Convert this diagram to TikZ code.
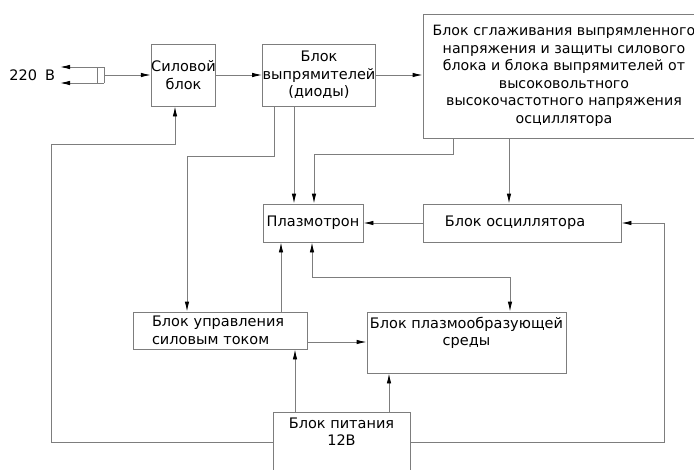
\documentclass[tikz,border=0pt]{standalone}
\usepackage{fontspec}
\setmainfont{DejaVu Sans}
\usetikzlibrary{arrows.meta}
\definecolor{linegray}{RGB}{125,125,125}
\begin{document}
\begin{tikzpicture}[x=1pt,y=-1pt,line width=0.9pt,
  box/.style={draw=linegray,rectangle,inner sep=0pt,text=black,font=\fontsize{14.5}{17.5}\selectfont},
  lbl/.style={text=black,font=\fontsize{14.5}{17.5}\selectfont,inner sep=0pt},
  arr/.style={draw=linegray,-{Latex[length=10pt,width=4.5pt,color=black]}},
  arrboth/.style={draw=linegray,{Latex[length=10pt,width=4.5pt,color=black]}-{Latex[length=10pt,width=4.5pt,color=black]}},
  ln/.style={draw=linegray}]
\useasboundingbox (0,0) rectangle (694,469);
\fill[white] (0,0) rectangle (694,469);
\clip (0,0) rectangle (694,469);

% boxes
\node[box,minimum width=61pt,minimum height=62pt,align=center] (sil) at (183.5,75) {Силовой\\блок};
\node[box,minimum width=112pt,minimum height=62pt,align=center] (vyp) at (319,75) {Блок\\выпрямителей\\(диоды)};
\node[box,minimum width=282pt,minimum height=124pt,align=center,font=\fontsize{14.2}{17.5}\selectfont] (big) at (564,76)
  {Блок сглаживания выпрямленного\\напряжения и защиты силового\\блока и блока выпрямителей от\\высоковольтного\\высокочастотного напряжения\\осциллятора};
\node[box,minimum width=100pt,minimum height=38pt] (plaz) at (313,223) {Плазмотрон};
\node[box,minimum width=198pt,minimum height=38pt] (osc) at (522,223) {Блок осциллятора\hspace*{14pt}};
\node[box,minimum width=174pt,minimum height=37pt,text width=174pt,align=left] (upr) at (220,330.5)
  {\hspace*{19pt}Блок управления\\\hspace*{19pt}силовым током};
\node[box,minimum width=199pt,minimum height=61pt] (sreda) at (466.5,342.5)
  {\parbox[c][61pt][t]{199pt}{\centering\vspace*{5pt}Блок плазмообразующей\\среды}};
\node[box,anchor=north,minimum width=137pt,minimum height=80pt] (pit) at (341.5,412)
  {\parbox[c][80pt][t]{137pt}{\centering\vspace*{5pt}Блок питания\\12В}};

% plug and mains label
\node[lbl,anchor=west] (mains) at (9,75) {220\hspace{8pt}В};
\coordinate (plugA) at (104,67);
\coordinate (plugB) at (104,83);
\coordinate (tipA) at (60,67);
\coordinate (tipB) at (60,83);
\coordinate (plugIA) at (97,67);
\coordinate (plugIB) at (97,83);
\coordinate (plug) at (104,75);
\draw[arr] (plugA) -- (tipA);
\draw[arr] (plugB) -- (tipB);
\draw[ln] (plugA) -- (plugB);
\draw[ln] (plugIA) -- (plugIB);
\draw[arr] (plug) -- (sil.west);

% top chain
\draw[arr] (sil.east) -- (vyp.west);
\draw[arr] (vyp.east) -- (big.west |- vyp.east);

% bend points
\coordinate (c1) at (274,156);
\coordinate (c2) at (187,156);
\coordinate (c3) at (294,0);
\coordinate (c4) at (453,154);
\coordinate (c5) at (314,154);
\coordinate (c6) at (509,0);
\coordinate (c7) at (664,442);
\coordinate (c8) at (51,442);
\coordinate (c9) at (51,144);
\coordinate (c10) at (175,144);
\coordinate (c11) at (281,0);
\coordinate (c12) at (312,277);
\coordinate (c13) at (510,277);
\coordinate (c14) at (0,342);
\coordinate (c15) at (295,0);
\coordinate (c16) at (389,0);

\draw[arr] (vyp.south -| c1) -- (c1) -- (c2) -- (upr.north -| c2);
\draw[arr] (vyp.south -| c3) -- (plaz.north -| c3);
\draw[arr] (big.south -| c4) -- (c4) -- (c5) -- (plaz.north -| c5);
\draw[arr] (big.south -| c6) -- (osc.north -| c6);
\draw[arr] (osc.west) -- (plaz.east);
\draw[arr] (pit.east |- c7) -- (c7) -- (c7 |- osc.east) -- (osc.east);
\draw[arr] (pit.west |- c8) -- (c8) -- (c9) -- (c10) -- (sil.south -| c10);
\draw[arr] (upr.north -| c11) -- (plaz.south -| c11);
\draw[arrboth] (plaz.south -| c12) -- (c12) -- (c13) -- (sreda.north -| c13);
\draw[arr] (upr.east |- c14) -- (sreda.west |- c14);
\draw[arr] (pit.north -| c15) -- (upr.south -| c15);
\draw[arr] (pit.north -| c16) -- (sreda.south -| c16);
\end{tikzpicture}
\end{document}
